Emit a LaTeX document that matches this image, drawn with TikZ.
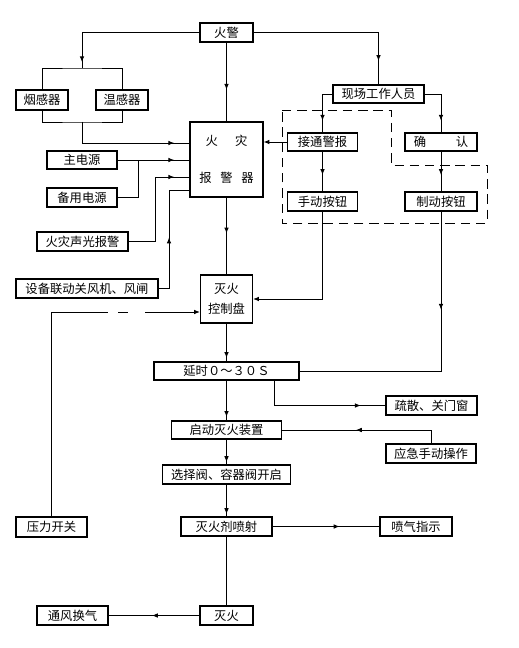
\documentclass[tikz,border=0pt]{standalone}
\usepackage{fontspec}
\setmainfont{Noto Sans CJK SC}
\usetikzlibrary{arrows.meta,decorations.markings}

\tikzset{
	box/.style = {draw, line width=1pt, inner sep=0pt, minimum height=19*0.03cm, align=center, font=\fontsize{10.5pt}{12.6pt}\selectfont},
	wd/.style = {minimum width=#1*0.03cm},
	ht/.style = {minimum height=#1*0.03cm},
	tip/.style = {-{Latex[length=5pt,width=4pt]}},
	arr/.style = {postaction={decorate}, decoration={markings, mark=at position -#1 with {\arrow{Latex[length=5pt,width=4pt]}}}},
	region/.style = {dash pattern=on 8pt off 5pt, line width=0.7pt}
}

\begin{document}
\begin{tikzpicture}[x=0.03cm, y=-0.03cm, line width=0.85pt]
	\useasboundingbox (0,0) rectangle (518,648);
	% boxes
	\node[box, wd=53] (hj) at (226.5,32.5) {火警};
	\node[box, wd=52, ht=20] (yg) at (42,100) {烟感器};
	\node[box, wd=52, ht=20] (wg) at (122,100) {温感器};
	\node[box, wd=73, ht=75] (bj) at (226.5,159.5) {火\hspace{1.4em}灾\\[19pt]报\hspace{0.7em}警\hspace{0.7em}器};
	\node[box, wd=70, ht=18] (zdy) at (82,160) {主电源};
	\node[box, wd=70] (bdy) at (82,197.5) {备用电源};
	\node[box, wd=91] (sg) at (82.5,241.5) {火灾声光报警};
	\node[box, wd=142] (sb) at (87,288.5) {设备联动关风机、风闸};
	\node[box, wd=52, ht=48] (kz) at (226.5,299) {灭火\\[5pt]控制盘};
	\node[box, wd=145, ht=18] (ys) at (226.5,371) {延时０～３０Ｓ};
	\node[box, wd=91] (ss) at (431.5,405.5) {疏散、关门窗};
	\node[box, wd=110, ht=18] (qd) at (226.5,430) {启动灭火装置};
	\node[box, wd=90] (yj) at (431,453.5) {应急手动操作};
	\node[box, wd=128] (xz) at (226.5,474.5) {选择阀、容器阀开启};
	\node[box, wd=91] (pj) at (226.5,526.5) {灭火剂喷射};
	\node[box, wd=72] (pq) at (416,526.5) {喷气指示};
	\node[box, wd=71, ht=20] (yl) at (51.5,527) {压力开关};
	\node[box, wd=53] (mh) at (226.5,615.5) {灭火};
	\node[box, wd=71] (tf) at (72.5,615.5) {通风换气};
	\node[box, wd=91, ht=18] (xc) at (378.5,94) {现场工作人员};
	\node[box, wd=70, ht=18] (jt) at (322.5,142) {接通警报};
	\node[box, wd=72, ht=18] (qr) at (441,142) {确\hspace{2.4em}认};
	\node[box, wd=70] (sd) at (322.5,201.5) {手动按钮};
	\node[box, wd=72] (zd) at (441,201.5) {制动按钮};
	% bends and free ends
	\coordinate (ytop) at (82,68);
	\coordinate (ybot) at (82,122);
	\coordinate (jdy) at (138,160);
	\coordinate (sgk) at (155,177);
	\coordinate (sbk) at (169,190);
	\coordinate (yla) at (108,312);
	\coordinate (ylb) at (118,312);
	\coordinate (ylc) at (128,312);
	\coordinate (yld) at (145,312);
	\draw[region] (282,110) -- (391,110) -- (391,165) -- (487,165) -- (487,223) -- (282,223) -- cycle;
	% left side
	\draw[arr=5pt] (hj.west) -| (ytop);
	\draw (yg.north) |- (ytop) -| (wg.north);
	\draw (yg.south) |- (ybot) -| (wg.south);
	\draw[arr=13pt] (ybot) |- (bj.west |- 0,143);
	\draw[arr=13pt] (zdy.east) -- (bj.west |- zdy.east);
	\draw (bdy.east) -| (jdy);
	\draw[arr=13pt] (sg.east) -| (sgk) -- (bj.west |- sgk);
	\draw[arr=58pt] (sb.east) -| (sbk) -- (bj.west |- sbk);
	\draw (yl.north) |- (yla);
	\draw (ylb) -- (ylc);
	\draw[tip] (yld) -- (kz.west |- yld);
	% right side
	\draw[arr=20pt] (hj.east) -| (xc.north);
	\draw[arr=10pt] (xc.west) -| (jt.north);
	\draw[arr=10pt] (xc.east) -| (qr.north);
	\draw[tip] (jt.west) -- (bj.east |- jt.west);
	\draw[arr=14pt] (jt.south) -- (sd.north);
	\draw[arr=14pt] (qr.south) -- (zd.north);
	\draw[tip] (sd.south) |- (kz.east);
	\draw[arr=173pt] (zd.south) |- (ys.east);
	% main column
	\draw[arr=27pt] (hj.south) -- (bj.north);
	\draw[arr=35pt] (bj.south) -- (kz.north);
	\draw[arr=3pt] (kz.south) -- (ys.north);
	\draw[arr=21pt] (ys.south -| 274,0) |- (ss.west);
	\draw[arr=3pt] (ys.south) -- (qd.north);
	\draw[arr=63pt] (yj.north) |- (qd.east);
	\draw[arr=2pt] (qd.south) -- (xz.north);
	\draw[arr=2pt] (xz.south) -- (pj.north);
	\draw[arr=34pt] (pj.east) -- (pq.west);
	\draw (pj.south) -- (mh.north);
	\draw[arr=37pt] (mh.west) -- (tf.east);
\end{tikzpicture}
\end{document}
